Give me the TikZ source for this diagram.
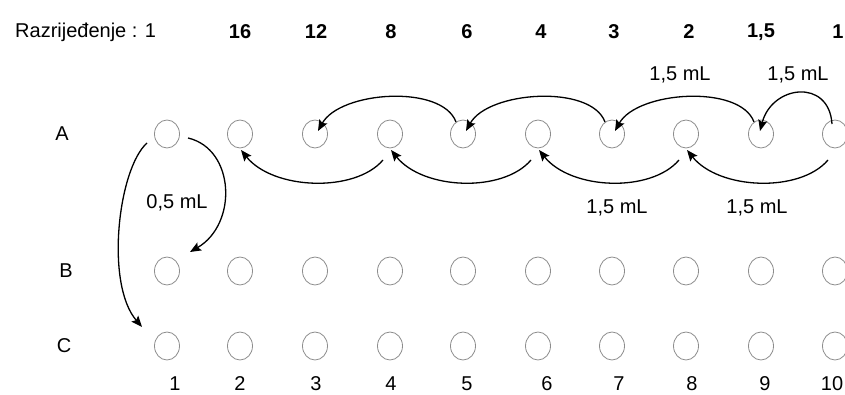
\documentclass[tikz,border=0pt]{standalone}
\usepackage{fontspec}
\setmainfont{Liberation Sans}
\usetikzlibrary{arrows.meta,shapes.geometric}
\begin{document}
\begin{tikzpicture}[x=1pt,y=1pt,
  well/.style={ellipse,draw=black!45,line width=0.8pt,minimum width=25pt,minimum height=28pt,inner sep=0pt},
  lbl/.style={font=\fontsize{20}{23}\selectfont,inner sep=0pt},
  hdr/.style={font=\fontsize{20}{23}\selectfont\bfseries,inner sep=0pt},
  arr/.style={line width=1.3pt,-{Stealth[length=11pt,width=9pt,inset=2pt]}}]
\useasboundingbox (0,0) rectangle (845,394);
% wells
\foreach \i/\x in {1/167,2/240,3/315,4/390,5/463,6/538,7/612,8/686,9/761,10/835}{
  \node[well] (A\i) at (\x,260) {};
  \node[well] (B\i) at (\x,123) {};
  \node[well] (C\i) at (\x,48) {};
}
% header
\node[lbl,anchor=west] (hd) at (15,362) {Razrijeđenje : 1};
\foreach \t/\x [count=\k] in {16/240,12/316,8/391,6/467,4/541,3/614,2/689,{1,5}/761,1/838}{
  \node[hdr] (h\k) at (\x,362) {\t};
}
% row labels
\node[lbl] (rA) at (62,260) {A};
\node[lbl] (rB) at (66,123) {B};
\node[lbl] (rC) at (64,48) {C};
% column numbers
\foreach \x [count=\k] in {175,240,316,391,467,547,619,692,765,832}{
  \node[lbl] (n\k) at (\x,10) {\k};
}
% top arcs
\coordinate (s10t) at ([shift={(-3,10)}]A10.center);
\coordinate (e9t) at ([shift={(-1,3)}]A9.center);
\draw[arr] (s10t) .. controls +(-3,46) and +(12,46) .. (e9t);
\foreach \a/\b in {9/7,7/5,5/3}{
  \coordinate (s\a t) at ([shift={(-7,12)}]A\a.center);
  \coordinate (e\b t) at ([shift={(3,3)}]A\b.center);
  \draw[arr] (s\a t) .. controls +(-14,38) and +(22,40) .. (e\b t);
}
% bottom arcs
\foreach \a/\b in {10/8,8/6,6/4,4/2}{
  \coordinate (s\a b) at ([shift={(-7,-26)}]A\a.center);
  \coordinate (e\b b) at ([shift={(1,-16)}]A\b.center);
  \draw[arr] (s\a b) .. controls +(-28,-33) and +(32,-40) .. (e\b b);
}
% transfer labels
\node[lbl] (t1) at (680,319) {1,5 mL};
\node[lbl] (t2) at (798,319) {1,5 mL};
\node[lbl] (t3) at (617,186) {1,5 mL};
\node[lbl] (t4) at (757,186) {1,5 mL};
% A1 to B1 and C1
\coordinate (sAB) at ([shift={(21,-4)}]A1.center);
\coordinate (eAB) at ([shift={(23,19)}]B1.center);
\draw[arr] (sAB) .. controls +(47,-11) and +(48,28) .. (eAB);
\node[lbl] (t5) at (177,191) {0,5 mL};
\coordinate (sAC) at ([shift={(-20,-9)}]A1.center);
\coordinate (eAC) at ([shift={(-25,19)}]C1.center);
\draw[arr] (sAC) .. controls +(-29,-26) and +(-37,43) .. (eAC);
\end{tikzpicture}
\end{document}
